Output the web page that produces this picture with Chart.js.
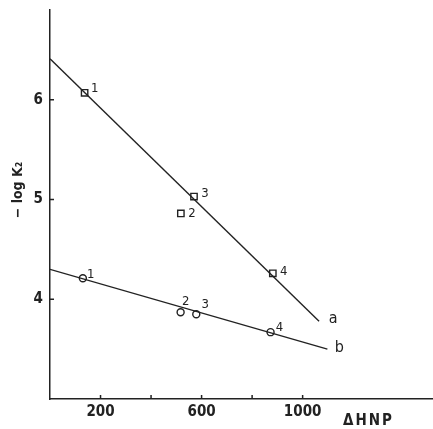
<!DOCTYPE html>
<html>
<head>
<meta charset="utf-8">
<script src="https://cdn.jsdelivr.net/npm/chart.js@4.4.0/dist/chart.umd.min.js"></script>
<style>
  html, body { margin: 0; padding: 0; background: #fff; }
  #box { width: 433px; height: 429px; }
</style>
</head>
<body>
<div id="box"><canvas id="myChart"></canvas></div>
<script>
// ---- data ----
const aX = [137, 518, 570, 882];
const aY = [6.07, 4.86, 5.03, 4.26];
const bX = [130, 517, 579, 873];
const bY = [4.21, 3.87, 3.85, 3.67];
const pointNames = ['1', '2', '3', '4'];

// fitted lines (end points)
const lineAX = [0, 1065];
const lineAY = [6.41, 3.78];
const lineBX = [0, 1098];
const lineBY = [4.30, 3.50];
const lineNames = ['a', 'b'];

const xTicks = [200, 400, 600, 800, 1000];
const xTickLabels = ['200', '', '600', '', '1000'];
const yTicks = [4, 5, 6];
const yTickLabels = ['4', '5', '6'];

const xTitle = 'ΔHNP';
const yTitle = '− log K₂';

const ink = '#222';
const font = '"DejaVu Sans Condensed", "DejaVu Sans", sans-serif';

function pts(xs, ys) {
    return xs.map((x, i) => ({ x: x, y: ys[i] }));
}

// ---- labels, inner ticks and axis titles ----
const labelOffsets = {
    a: [[10, -4], [11, 0], [11, -3], [11, -2]],
    b: [[8, -4], [5, -11], [9, -10], [9, -5]]
};

const extras = {
    id: 'extras',
    afterDraw(chart) {
        const c = chart.ctx;
        const xs = chart.scales.x;
        const ys = chart.scales.y;
        const area = chart.chartArea;
        c.save();
        c.strokeStyle = ink;
        c.lineWidth = 1.5;
        // inner ticks
        c.beginPath();
        for (const t of xTicks) {
            const px = xs.getPixelForValue(t);
            c.moveTo(px, area.bottom);
            c.lineTo(px, area.bottom - 4);
        }
        for (const t of yTicks) {
            const py = ys.getPixelForValue(t);
            c.moveTo(area.left, py);
            c.lineTo(area.left + 4, py);
        }
        c.stroke();

        // point numbers
        c.fillStyle = ink;
        c.font = '13px ' + font;
        c.textAlign = 'center';
        c.textBaseline = 'middle';
        const sets = [['a', aX, aY], ['b', bX, bY]];
        for (const [key, xv, yv] of sets) {
            xv.forEach((x, i) => {
                const off = labelOffsets[key][i];
                c.fillText(pointNames[i], xs.getPixelForValue(x) + off[0], ys.getPixelForValue(yv[i]) + off[1]);
            });
        }

        // line letters
        c.font = '16px ' + font;
        c.fillText(lineNames[0], xs.getPixelForValue(lineAX[1]) + 14, ys.getPixelForValue(lineAY[1]) - 2);
        c.fillText(lineNames[1], xs.getPixelForValue(lineBX[1]) + 12, ys.getPixelForValue(lineBY[1]) - 1);

        // axis titles
        c.font = 'bold 15px ' + font;
        c.textAlign = 'left';
        c.letterSpacing = '2px';
        c.fillText(xTitle, area.left + 293, area.bottom + 22);
        c.letterSpacing = '0px';
        c.save();
        c.translate(18, 190);
        c.rotate(-Math.PI / 2);
        c.textAlign = 'center';
        c.font = 'bold 14px ' + font;
        c.fillText(yTitle, 0, 0);
        c.restore();
        c.restore();
    }
};

const ctx = document.getElementById('myChart');
new Chart(ctx, {
    type: 'scatter',
    data: {
        datasets: [
            {
                data: pts(lineAX, lineAY),
                showLine: true,
                borderColor: ink,
                borderWidth: 1.4,
                pointRadius: 0
            },
            {
                data: pts(lineBX, lineBY),
                showLine: true,
                borderColor: ink,
                borderWidth: 1.4,
                pointRadius: 0
            },
            {
                data: pts(aX, aY),
                pointStyle: 'rect',
                pointRadius: 4.5,
                pointBorderWidth: 1.4,
                pointBorderColor: ink,
                pointBackgroundColor: '#fff'
            },
            {
                data: pts(bX, bY),
                pointStyle: 'circle',
                pointRadius: 3.5,
                pointBorderWidth: 1.4,
                pointBorderColor: ink,
                pointBackgroundColor: '#fff'
            }
        ]
    },
    options: {
        responsive: true,
        maintainAspectRatio: false,
        animation: false,
        layout: { autoPadding: false, padding: { top: 10, right: 0, left: 0, bottom: 0 } },
        plugins: {
            legend: { display: false },
            tooltip: { enabled: false }
        },
        scales: {
            x: {
                type: 'linear',
                min: 0,
                max: 1516,
                grid: { display: false, drawTicks: false },
                border: { display: true, color: ink, width: 1.5 },
                afterBuildTicks: (s) => { s.ticks = xTicks.map(v => ({ value: v })); },
                afterFit: (s) => { s.height = 30; s.paddingLeft = 0; s.paddingRight = 0; },
                ticks: {
                    color: ink,
                    padding: 4,
                    maxRotation: 0,
                    font: { family: font, size: 15, weight: 'bold' },
                    callback: (v) => xTickLabels[xTicks.indexOf(v)]
                }
            },
            y: {
                type: 'linear',
                min: 3,
                max: 6.9,
                grid: { display: false, drawTicks: false },
                border: { display: true, color: ink, width: 1.5 },
                afterBuildTicks: (s) => { s.ticks = yTicks.map(v => ({ value: v })); },
                afterFit: (s) => { s.width = 50; s.paddingTop = 0; s.paddingBottom = 0; },
                ticks: {
                    color: ink,
                    padding: 7,
                    font: { family: font, size: 15, weight: 'bold' },
                    callback: (v) => yTickLabels[yTicks.indexOf(v)]
                }
            }
        }
    },
    plugins: [extras]
});
</script>
</body>
</html>
